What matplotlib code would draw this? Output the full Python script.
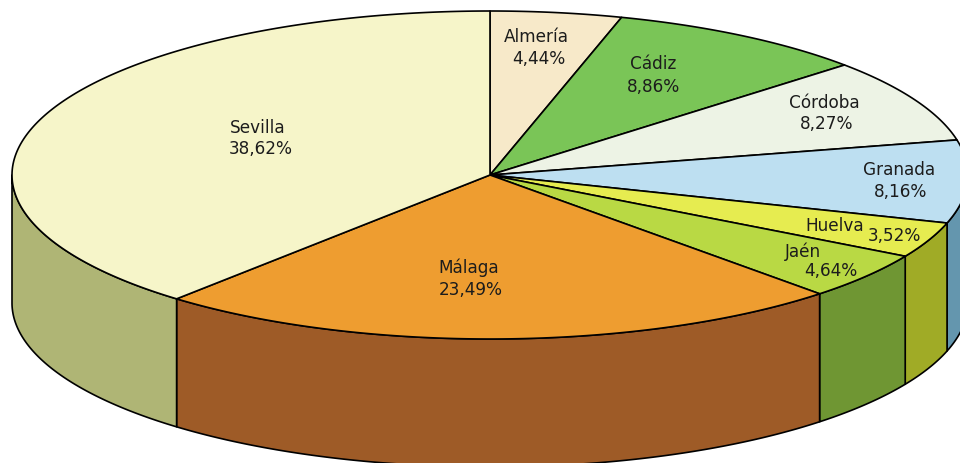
import numpy as np
import matplotlib
matplotlib.use("Agg")
import matplotlib.pyplot as plt
from matplotlib.patches import Polygon

plt.rcParams['font.family'] = ['DejaVu Sans']

provinces = ["Almería", "Cádiz", "Córdoba", "Granada", "Huelva", "Jaén", "Málaga", "Sevilla"]
shares = [4.44, 8.86, 8.27, 8.16, 3.52, 4.64, 23.49, 38.62]
share_labels = ["4,44%", "8,86%", "8,27%", "8,16%", "3,52%", "4,64%", "23,49%", "38,62%"]
top_colors = ["#F7E9C9", "#7AC557", "#EDF3E5", "#BDDFF1", "#E6EC50", "#B9D944", "#EE9D30", "#F6F5C9"]
side_colors = ["#B0AA8E", "#57883E", "#A5AA9F", "#6496AE", "#A0AB26", "#6F9633", "#9E5B27", "#AFB575"]
name_pos = [(536, 37), (653, 64), (824, 103), (899, 170), (835, 226), (803, 252), (469, 268), (258, 128)]
pct_pos = [(539, 59), (654, 87), (827, 124), (901, 192), (894, 236), (831, 271), (471, 290), (261, 149)]

W, H = 960, 464
CX, CY, RX, RY, DEPTH = 490, 176, 478, 164, 128

fig = plt.figure(figsize=(W / 100, H / 100), dpi=100)
ax = fig.add_axes([0, 0, 1, 1])
ax.set_xlim(0, W)
ax.set_ylim(H, 0)
ax.axis("off")


def rim(t0, t1, n=200):
    t = np.linspace(t0, t1, n)
    return CX + RX * np.sin(t), CY - RY * np.cos(t)


edges = np.concatenate([[0], np.cumsum(shares)]) / np.sum(shares) * 2 * np.pi

# walls: only the arc on the near half (pi/2 .. 3pi/2) is visible
for i in range(len(shares)):
    a = max(edges[i], np.pi / 2)
    b = min(edges[i + 1], 3 * np.pi / 2)
    if a < b:
        x, y = rim(a, b)
        pts = np.r_[np.c_[x, y], np.c_[x[::-1], y[::-1] + DEPTH]]
        ax.add_patch(Polygon(pts, closed=True, fc=side_colors[i], ec="black", lw=1.2, joinstyle="round"))

# top faces
for i in range(len(shares)):
    x, y = rim(edges[i], edges[i + 1])
    pts = np.r_[[[CX, CY]], np.c_[x, y]]
    ax.add_patch(Polygon(pts, closed=True, fc=top_colors[i], ec="black", lw=1.2, joinstyle="round"))

for i in range(len(shares)):
    ax.text(*name_pos[i], provinces[i], ha="center", va="center", fontsize=12.2, color="#1c1c1c")
    ax.text(*pct_pos[i], share_labels[i], ha="center", va="center", fontsize=12.2, color="#1c1c1c")

fig.savefig("out.png", dpi=100, facecolor="white")
